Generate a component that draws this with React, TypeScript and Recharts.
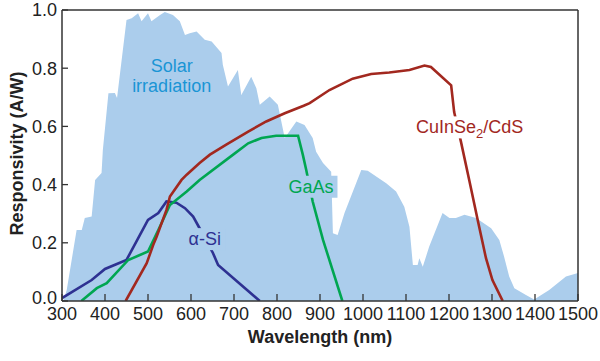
import { ComposedChart, Area, Line, XAxis, YAxis, ReferenceLine, ReferenceDot, Label } from "recharts";

// wavelength (nm) / value pairs
const solarNm = [303, 311, 334, 346, 353, 369, 377, 392, 395, 408, 423, 428, 450, 462, 477, 485, 500, 508, 528, 539, 558, 574, 586, 597, 613, 632, 648, 671, 674, 686, 709, 717, 740, 752, 760, 783, 802, 818, 845, 864, 883, 891, 907, 926, 930, 941, 957, 996, 1011, 1054, 1077, 1096, 1108, 1116, 1127, 1131, 1139, 1154, 1185, 1201, 1216, 1236, 1263, 1298, 1317, 1328, 1340, 1352, 1379, 1398, 1433, 1472, 1500];
const solarVal = [0, 0.038, 0.244, 0.244, 0.285, 0.29, 0.416, 0.44, 0.519, 0.714, 0.715, 0.698, 0.966, 0.972, 0.989, 0.961, 0.989, 0.961, 0.983, 0.993, 0.983, 0.961, 0.914, 0.92, 0.926, 0.898, 0.892, 0.852, 0.812, 0.737, 0.794, 0.708, 0.771, 0.731, 0.674, 0.703, 0.674, 0.56, 0.617, 0.605, 0.56, 0.513, 0.474, 0.444, 0.233, 0.227, 0.302, 0.45, 0.448, 0.405, 0.376, 0.324, 0.255, 0.124, 0.124, 0.147, 0.118, 0.187, 0.302, 0.285, 0.285, 0.296, 0.285, 0.25, 0.21, 0.153, 0.084, 0.044, 0.021, 0.005, 0.038, 0.084, 0.096];

const aSiNm = [300, 369, 400, 450, 500, 524, 543, 566, 586, 605, 620, 651, 663, 760];
const aSiVal = [0.01, 0.072, 0.11, 0.141, 0.279, 0.302, 0.342, 0.338, 0.319, 0.29, 0.25, 0.165, 0.124, 0];

const gaAsNm = [345, 381, 404, 454, 500, 524, 551, 590, 620, 698, 733, 764, 798, 849, 860, 868, 883, 907, 952];
const gaAsVal = [0, 0.044, 0.061, 0.141, 0.17, 0.244, 0.33, 0.376, 0.416, 0.503, 0.542, 0.56, 0.568, 0.568, 0.503, 0.45, 0.342, 0.21, 0];

const cisNm = [448, 497, 512, 520, 543, 551, 578, 590, 620, 644, 682, 733, 775, 818, 862, 876, 922, 976, 1019, 1061, 1108, 1143, 1158, 1205, 1212, 1228, 1247, 1268, 1286, 1301, 1325];
const cisVal = [0, 0.13, 0.192, 0.221, 0.313, 0.359, 0.416, 0.434, 0.474, 0.503, 0.537, 0.582, 0.617, 0.645, 0.671, 0.68, 0.725, 0.764, 0.78, 0.785, 0.794, 0.809, 0.804, 0.741, 0.649, 0.546, 0.416, 0.27, 0.147, 0.072, 0];

const xTicks = [300, 400, 500, 600, 700, 800, 900, 1000, 1100, 1200, 1300, 1400, 1500];
const yTicks = [0, 0.2, 0.4, 0.6, 0.8, 1.0];

const toPoints = (nm: number[], val: number[]) => nm.map((x, i) => ({ x, v: val[i] }));

const solar = toPoints(solarNm, solarVal);
const aSi = toPoints(aSiNm, aSiVal);
const gaAs = toPoints(gaAsNm, gaAsVal);
const cis = toPoints(cisNm, cisVal);

const FONT = "'Liberation Sans', Arial, Helvetica, sans-serif";
const AXIS = "#333";
const AREA_FILL = "#abcdec";

const XTick = ({ x, y, payload }: any) => (
  <g>
    <line x1={x} x2={x} y1={y} y2={y - 7} stroke={AXIS} strokeWidth={1.3} />
    <text x={x} y={y + 19} textAnchor="middle" fontSize={18} fontFamily={FONT} fill="#222">
      {payload.value}
    </text>
  </g>
);

const YTick = ({ x, y, payload }: any) => (
  <g>
    <line x1={x} x2={x + 6} y1={y} y2={y} stroke={AXIS} strokeWidth={1.3} />
    <text x={x - 5} y={payload.value === 0 ? y - 3 : y} dy="0.35em" textAnchor="end" fontSize={18} fontFamily={FONT} fill="#222">
      {payload.value.toFixed(1)}
    </text>
  </g>
);

// series label with a patch behind it so the line breaks around the text
const seriesLabel = (text: React.ReactNode, color: string, w: number, bg?: string) => (props: any) => {
  const { cx, cy } = props;
  return (
    <g>
      {bg && <rect x={cx - w / 2 - 3} y={cy - 17} width={w + 6} height={22} fill={bg} />}
      <text x={cx} y={cy} textAnchor="middle" fontSize={18} fontFamily={FONT} fill={color}>
        {text}
      </text>
    </g>
  );
};

export default function App() {
  return (
    <div style={{ width: 600, height: 361, background: "#fff" }}>
      <style>{"body{margin:0}"}</style>
      <ComposedChart width={600} height={361} margin={{ top: 10, right: 22, bottom: 0, left: 0 }}>
        <XAxis
          dataKey="x"
          type="number"
          domain={[300, 1500]}
          ticks={xTicks}
          height={60}
          tickSize={0}
          tickMargin={0}
          tickLine={false}
          tick={<XTick />}
          axisLine={{ stroke: AXIS, strokeWidth: 1.5 }}
          allowDataOverflow
        >
          <Label
            content={({ viewBox }: any) => (
              <text
                x={viewBox.x + viewBox.width / 2}
                y={viewBox.y + 42}
                textAnchor="middle"
                fontSize={18}
                fontWeight="bold"
                fontFamily={FONT}
                fill="#222"
              >
                Wavelength (nm)
              </text>
            )}
          />
        </XAxis>
        <YAxis
          type="number"
          domain={[0, 1]}
          ticks={yTicks}
          width={62}
          tickSize={0}
          tickMargin={0}
          tickLine={false}
          tick={<YTick />}
          axisLine={{ stroke: AXIS, strokeWidth: 1.5 }}
          allowDataOverflow
        >
          <Label
            content={({ viewBox }: any) => {
              const cx = viewBox.x + 23;
              const cy = viewBox.y + viewBox.height / 2 - 2;
              return (
                <text
                  x={cx}
                  y={cy}
                  transform={`rotate(-90 ${cx} ${cy})`}
                  textAnchor="middle"
                  fontSize={18}
                  fontWeight="bold"
                  fontFamily={FONT}
                  fill="#222"
                >
                  Responsivity (A/W)
                </text>
              );
            }}
          />
        </YAxis>

        <Area
          data={solar}
          dataKey="v"
          type="linear"
          fill={AREA_FILL}
          fillOpacity={1}
          stroke="none"
          isAnimationActive={false}
        />
        <Line data={aSi} dataKey="v" type="linear" stroke="#2e3192" strokeWidth={2.6} dot={false} isAnimationActive={false} />
        <Line data={gaAs} dataKey="v" type="linear" stroke="#00a651" strokeWidth={2.6} dot={false} isAnimationActive={false} />
        <Line data={cis} dataKey="v" type="linear" stroke="#a2281f" strokeWidth={2.6} dot={false} isAnimationActive={false} />

        <ReferenceLine y={1} stroke={AXIS} strokeWidth={1.5} />
        <ReferenceLine x={1500} stroke={AXIS} strokeWidth={1.5} />

        <ReferenceDot x={555} y={0.787} r={1} shape={seriesLabel("Solar", "#1a95d5", 44)} />
        <ReferenceDot x={555} y={0.718} r={1} shape={seriesLabel("irradiation", "#1a95d5", 82)} />
        <ReferenceDot x={632} y={0.192} r={1} shape={seriesLabel("α-Si", "#2e3192", 36, AREA_FILL)} />
        <ReferenceDot x={879} y={0.372} r={1} shape={seriesLabel("GaAs", "#00a651", 47, AREA_FILL)} />
        <ReferenceDot
          x={1248}
          y={0.576}
          r={1}
          shape={seriesLabel(
            <>
              CuInSe<tspan dy={5} fontSize={13}>2</tspan>
              <tspan dy={-5}>/CdS</tspan>
            </>,
            "#a2281f",
            116,
            "#fff"
          )}
        />
      </ComposedChart>
    </div>
  );
}
